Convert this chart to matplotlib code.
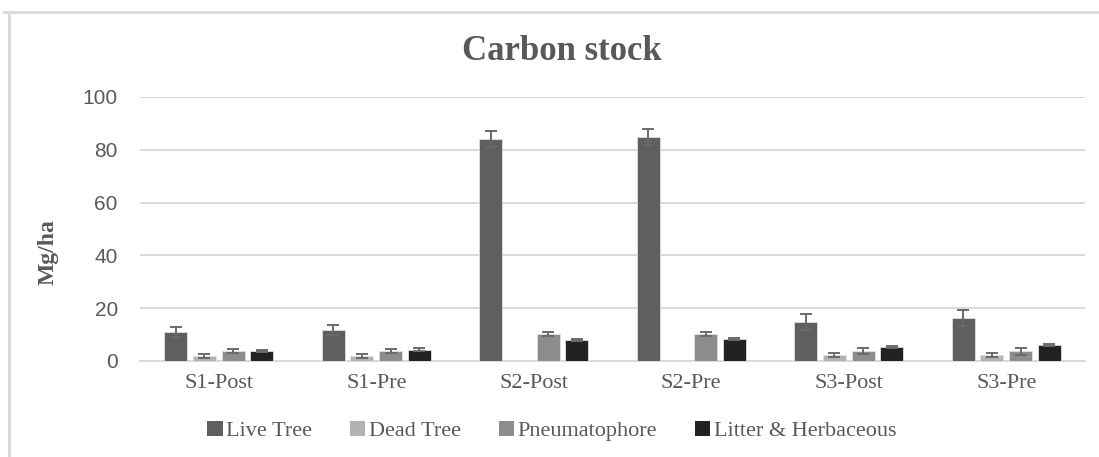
import matplotlib
matplotlib.use("Agg")
import matplotlib.pyplot as plt
import numpy as np
from matplotlib.patches import Patch
from matplotlib.lines import Line2D

# data
sites = ["S1-Post", "S1-Pre", "S2-Post", "S2-Pre", "S3-Post", "S3-Pre"]
series = ["Live Tree", "Dead Tree", "Pneumatophore", "Litter & Herbaceous"]
live = [11.0, 11.7, 84.1, 84.8, 14.8, 16.3]
live_err = [1.9, 1.9, 3.0, 3.0, 2.9, 3.0]
dead = [1.9, 1.9, 0.0, 0.0, 2.4, 2.3]
dead_err = [0.7, 0.6, 0.0, 0.0, 0.7, 0.8]
pneu = [3.8, 3.8, 10.1, 10.1, 3.8, 3.6]
pneu_err = [0.8, 0.8, 0.8, 0.8, 1.0, 1.2]
litter = [3.8, 4.2, 8.0, 8.3, 5.3, 6.0]
litter_err = [0.3, 0.6, 0.4, 0.5, 0.4, 0.4]

colors = ["#5f5f5f", "#b3b3b3", "#8c8c8c", "#222222"]
grey_txt = "#595959"

fig = plt.figure(figsize=(10.99, 4.57), dpi=100)
ax = fig.add_axes([140 / 1099, 1 - 361 / 457, 945 / 1099, 264 / 457])

x = np.arange(len(sites))
width = 0.146
step = 0.181
values = [live, dead, pneu, litter]
errors = [live_err, dead_err, pneu_err, litter_err]
for i in range(4):
    pos = x + (i - 1.5) * step
    ax.bar(pos, values[i], width, color=colors[i], edgecolor="#e0e0e0", linewidth=0.6, zorder=3)
    mask = np.array(values[i]) > 0
    ax.errorbar(pos[mask], np.array(values[i])[mask], yerr=np.array(errors[i])[mask],
                fmt="none", ecolor="#6a6a6a", elinewidth=1.4, capsize=4.5, capthick=1.4, zorder=4)

ax.set_ylim(0, 100)
ax.set_xlim(-0.5, len(sites) - 0.5)
ax.set_yticks([0, 20, 40, 60, 80, 100])
ax.yaxis.grid(True, color="#d9d9d9", linewidth=1.4, zorder=0)
ax.set_axisbelow(True)
for s in ["top", "right", "left"]:
    ax.spines[s].set_visible(False)
ax.spines["bottom"].set_color("#d9d9d9")
ax.spines["bottom"].set_linewidth(1.4)
ax.tick_params(length=0)
ax.set_xticks(x)
ax.set_xticklabels(sites, fontfamily="Liberation Serif", fontsize=16, color=grey_txt)
ax.tick_params(axis="x", pad=9)
ax.tick_params(axis="y", pad=16)
for lab in ax.get_yticklabels():
    lab.set_fontfamily("Liberation Sans")
    lab.set_fontsize(15)
    lab.set_color(grey_txt)

ax.set_ylabel("Mg/ha", fontfamily="Liberation Serif", fontweight="bold", fontsize=17, color=grey_txt)
ax.yaxis.set_label_coords(-(140 - 59) / 945, (361 - 252) / 264)

fig.text(0.511, 1 - 51 / 457, "Carbon stock", ha="center", va="center",
         fontfamily="Liberation Serif", fontweight="bold", fontsize=25, color=grey_txt)

handles = [Patch(facecolor=c, edgecolor="none") for c in colors]
fig.legend(handles, series, loc="center", bbox_to_anchor=(0.502, 1 - 431 / 457), ncol=4, frameon=False,
           prop={"family": "Liberation Serif", "size": 16}, labelcolor=grey_txt,
           handlelength=0.7, handleheight=0.7, handletextpad=0.15, columnspacing=1.7)

# chart frame border
fig.add_artist(Line2D([4 / 1099, 1], [1 - 12 / 457, 1 - 12 / 457], color="#d9d9d9", linewidth=2))
fig.add_artist(Line2D([9 / 1099, 9 / 1099], [0, 1 - 12 / 457], color="#d9d9d9", linewidth=2))

fig.savefig("out.png", dpi=100)
